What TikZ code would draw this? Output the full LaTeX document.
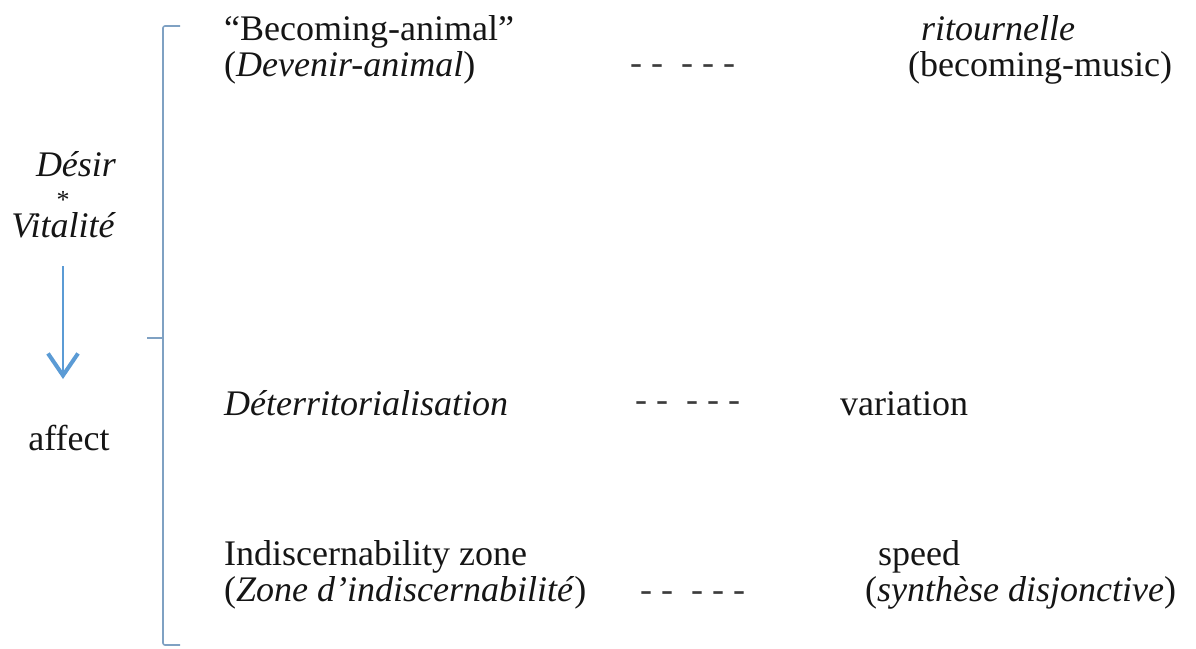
\documentclass[tikz,border=0pt]{standalone}
\usepackage{fontspec}
\setmainfont{Liberation Serif}
\usetikzlibrary{arrows.meta}
\definecolor{brk}{HTML}{7FA1C3}
\definecolor{arr}{HTML}{5B9BD5}
\definecolor{txt}{HTML}{151515}
\definecolor{dsh}{HTML}{3C3C3C}
\tikzset{
  lbl/.style={inner sep=0pt, anchor=base west, text=txt, font=\fontsize{36}{40}\selectfont},
  lblc/.style={inner sep=0pt, anchor=base, text=txt, font=\fontsize{36}{40}\selectfont},
  dashtxt/.style={inner sep=0pt, anchor=west, text=dsh, font=\fontsize{36}{40}\selectfont},
  bracket/.style={draw=brk, line width=1.6pt, rounded corners=2pt},
  flow/.style={draw=arr, line width=2.2pt, -{Straight Barb[length=22pt, width=30pt, line width=4pt]}}
}
\begin{document}
\begin{tikzpicture}[x=1pt, y=-1pt]
\useasboundingbox (0,0) rectangle (1196,648);
% left column
\node[lblc] (desir) at (76,176) {\itshape Désir};
\node[lblc, font=\fontsize{26}{28}\selectfont] (star) at (63,208) {*};
\node[lblc] (vital) at (63,237) {\itshape Vitalité};
\node[lblc] (affect) at (69,450) {affect};
\coordinate (a1) at (63,266);
\coordinate (a2) at (63,379);
\draw[flow] (a1) -- (a2);
% bracket
\coordinate (bt) at (180,26);
\coordinate (bc) at (163,26);
\coordinate (bb) at (163,645);
\coordinate (be) at (180,645);
\coordinate (tm) at (163,338);
\coordinate (tl) at (147,338);
\draw[bracket] (bt) -- (bc) -- (bb) -- (be);
\draw[bracket] (tm) -- (tl);
% row 1
\node[lbl] (becA) at (224,40) {“Becoming-animal”};
\node[lbl] (becB) at (224,76) {(\textit{Devenir-animal})};
\node[dashtxt] (d1) at (630,70) {- -\ \ - - -};
\node[lbl] (ritA) at (921,40) {\itshape ritournelle};
\node[lbl] (ritB) at (908,76) {(becoming-music)};
% row 2
\node[lbl] (deter) at (224,415) {\itshape Déterritorialisation};
\node[dashtxt] (d2) at (635,407) {- -\ \ - - -};
\node[lbl] (vari) at (840,415) {variation};
% row 3
\node[lbl] (indA) at (224,565) {Indiscernability zone};
\node[lbl] (indB) at (224,601) {(\textit{Zone d’indiscernabilité})};
\node[dashtxt] (d3) at (640,597) {- -\ \ - - -};
\node[lbl] (spdA) at (878,565) {speed};
\node[lbl] (spdB) at (865,601) {(\textit{synthèse disjonctive})};
\end{tikzpicture}
\end{document}
